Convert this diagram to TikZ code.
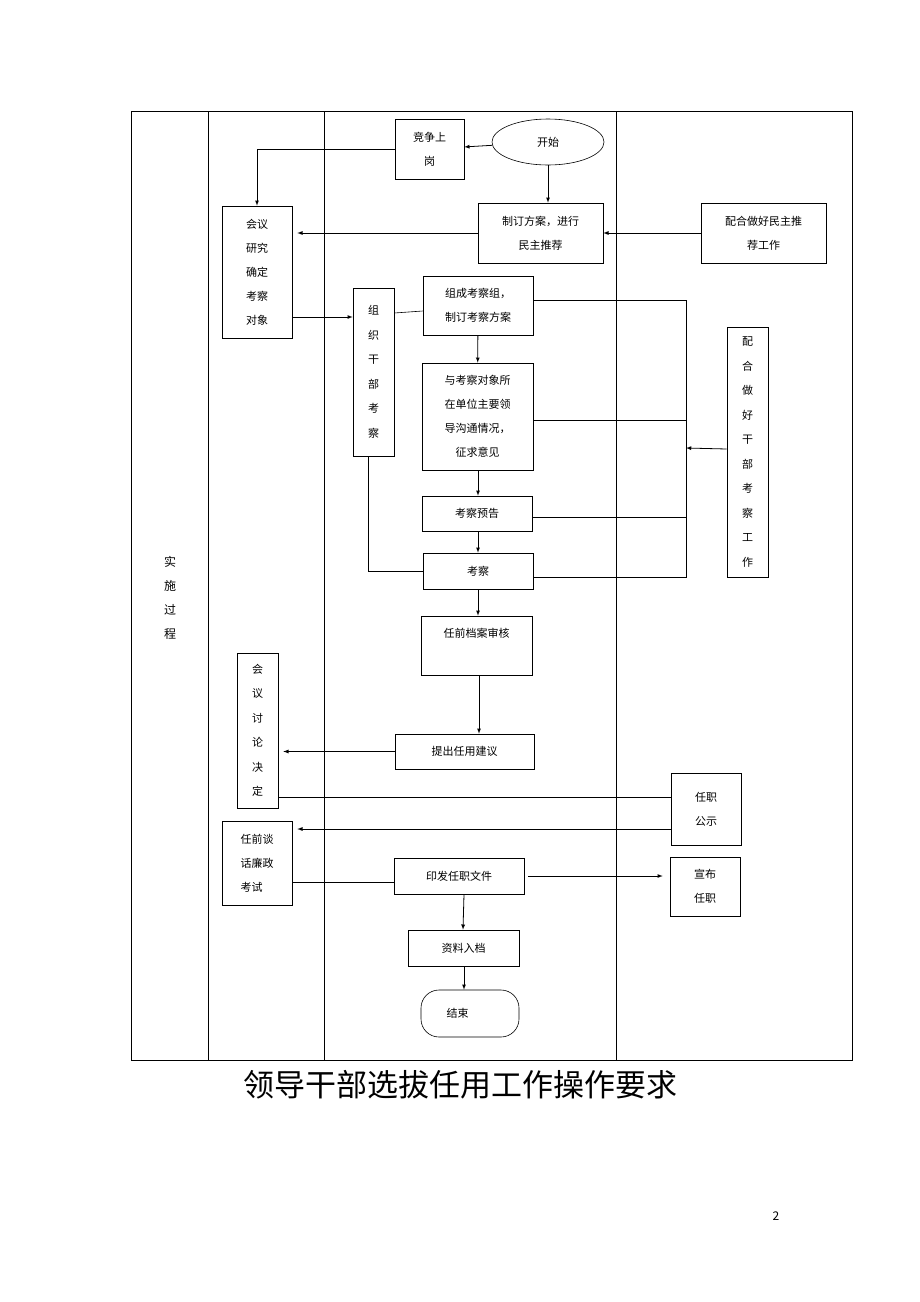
\documentclass[tikz,border=0pt]{standalone}
\usepackage{fontspec}
\setmainfont{Noto Sans CJK SC}
\usetikzlibrary{arrows,shapes.geometric}
\begin{document}
\begin{tikzpicture}[x=1pt,y=-1pt,>=latex,semithick,
  box/.style={draw,align=center,font=\fontsize{11}{24}\selectfont},
  vbox/.style={draw,align=center,font=\fontsize{11}{24.5}\selectfont},
  flow/.style={->,thick,shorten >=5pt}]
  \useasboundingbox (0,0) rectangle (920,1302);

  % lanes
  \draw[thin] (131,111) rectangle (852,1060);
  \foreach \x in {208,324,616} \draw[thin] (\x,111) -- (\x,1060);
  \node[align=center,font=\fontsize{12}{24}\selectfont] (lane) at (170,598) {实\\施\\过\\程};

  \node[box,minimum width=69,minimum height=60] (jz) at (429.5,149) {竞争上\\岗};
  \node[draw,ellipse,minimum width=112,minimum height=46,font=\fontsize{11}{14}\selectfont] (ks) at (548,142) {开始};
  \node[box,minimum width=125,minimum height=60] (zd) at (540.5,233) {制订方案，进行\\民主推荐};
  \node[box,minimum width=125,minimum height=60] (ph) at (763.5,233) {配合做好民主推\\荐工作};
  \node[box,minimum width=70,minimum height=132] (hy) at (257,272) {会议\\研究\\确定\\考察\\对象};
  \node[vbox,minimum width=41,minimum height=168] (zz) at (373.5,372) {组\\织\\干\\部\\考\\察};
  \node[box,minimum width=110,minimum height=59] (zc) at (478,305.5) {组成考察组，\\制订考察方案};
  \node[box,minimum width=111,minimum height=107] (gt) at (477.5,416.5) {与考察对象所\\在单位主要领\\导沟通情况，\\征求意见};
  \node[box,minimum width=110,minimum height=35] (yg) at (477,513.5) {考察预告};
  \node[box,minimum width=110,minimum height=36] (kc) at (478,571) {考察};
  \node[draw,minimum width=111,minimum height=59] (da) at (476.5,645.5) {};
  \node[font=\fontsize{11}{14}\selectfont] (dat) at (476.5,633) {任前档案审核};
  \node[vbox,minimum width=41,minimum height=250] (phk) at (747.5,452) {配\\合\\做\\好\\干\\部\\考\\察\\工\\作};
  \node[vbox,minimum width=41,minimum height=155] (tl) at (257.5,730.5) {会\\议\\讨\\论\\决\\定};
  \node[box,minimum width=139,minimum height=35] (jy) at (464.5,751.5) {提出任用建议};
  \node[box,minimum width=70,minimum height=72] (gs) at (706,809) {任职\\公示};
  \node[box,minimum width=70,minimum height=84] (th) at (257,863) {任前谈\\话廉政\\\makebox[33pt][l]{考试}};
  \node[box,minimum width=130,minimum height=36] (yf) at (459,876) {印发任职文件};
  \node[box,minimum width=70,minimum height=59] (xb) at (705,886.5) {宣布\\任职};
  \node[box,minimum width=111,minimum height=36] (zl) at (463.5,948) {资料入档};
  \node[draw,rounded corners=18pt,minimum width=98,minimum height=47,font=\fontsize{11}{14}\selectfont] (js) at (470,1013.5) {\hspace*{-25pt}结束};

  \node[font=\fontsize{31}{34}\selectfont] (title) at (460,1085) {领导干部选拔任用工作操作要求};
  \node[font=\fontsize{12}{14}\selectfont] (pg) at (776,1216) {2};

  % connectors
  \draw[->,thick] (ks) -- (jz);
  \draw[->,thick] (jz.west) -| (hy.north);
  \draw[->,thick] (ks.south) -- (zd.north -| ks.south);
  \draw[flow] (zd) -- (hy.east |- zd);
  \draw[->,thick] (ph) -- (zd);
  \draw[->,thick] (hy.east |- 0,317) -- (zz.west |- 0,317);
  \draw (zz.east |- 0,313) -- (zc.west |- 0,311);
  \draw[->,thick] (zc) -- (gt);
  \draw[->,thick] (gt.south -| 478,0) -- (yg.north -| 478,0);
  \draw[->,thick] (yg.south -| 478,0) -- (kc.north -| 478,0);
  \draw[->,thick] (kc.south -| 478,0) -- (da.north -| 478,0);
  \draw (zz.south -| 368,0) |- (kc.west);
  \draw (zc.east |- 0,300) -| (686,577) -- (kc.east |- 0,577);
  \draw (gt.east |- 0,420) -- (686,420);
  \draw (yg.east |- 0,517) -- (686,517);
  \draw[->,thick] (phk.west |- 0,449) -- (686,448);
  \draw[->,thick] (da.south -| 479,0) -- (jy.north -| 479,0);
  \draw[flow] (jy) -- (tl.east |- jy);
  \draw (tl.east |- 0,797) -- (gs.west |- 0,797);
  \draw[flow] (gs.west |- 0,829) -- (th.east |- 0,829);
  \draw (th.east |- 0,882) -- (yf.west |- 0,882);
  \draw[->,thick,shorten <=4pt,shorten >=7pt] (yf) -- (xb.west |- yf);
  \draw[->,thick] (yf.south -| 464,0) -- (zl.north -| 463,0);
  \draw[->,thick] (zl.south -| 464,0) -- (js.north -| 464,0);
\end{tikzpicture}
\end{document}
